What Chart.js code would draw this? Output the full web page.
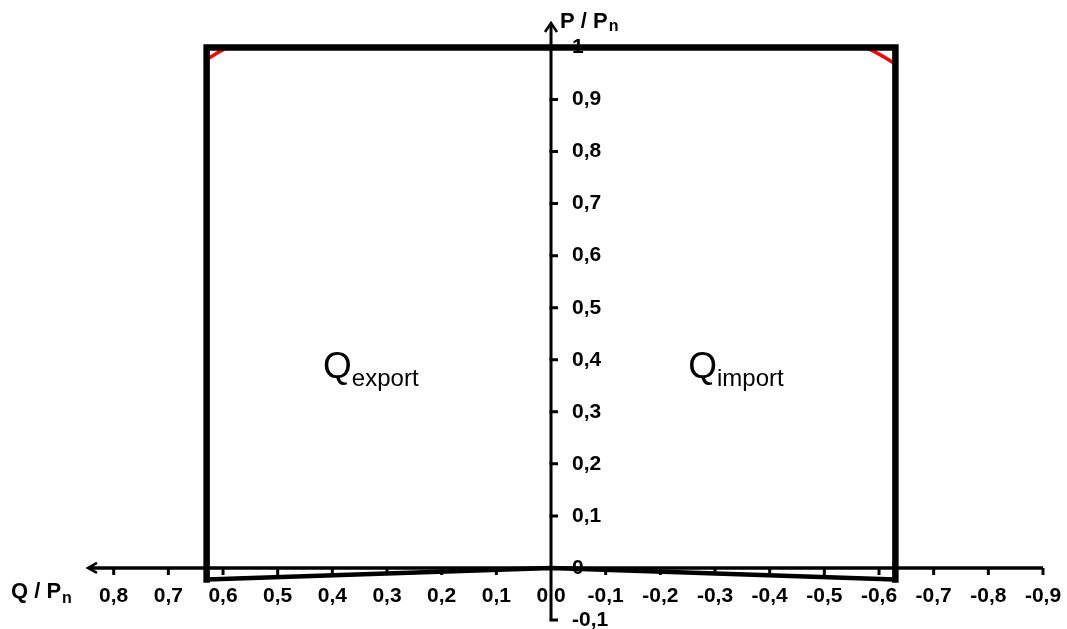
<!DOCTYPE html>
<html>
<head>
<meta charset="utf-8">
<script src="https://cdn.jsdelivr.net/npm/chart.js@4.4.1/dist/chart.umd.min.js"></script>
<style>
  body { margin: 0; background: #fff; }
  #wrap { width: 1067px; height: 629px; }
</style>
</head>
<body>
<div id="wrap"><canvas id="pqChart"></canvas></div>
<script>
// Q/Pn (x) and P/Pn (y) values
const boxQ = [0.63, 0.63, -0.63, -0.63];
const boxP = [-0.022, 1, 1, -0.022];

const baseQ = [0.63, 0, -0.63];
const baseP = [-0.022, 0, -0.022];

const arcLeftQ = [0.593, 0.61, 0.63];
const arcLeftP = [1.0, 0.99, 0.977];
const arcRightQ = [-0.575, -0.59, -0.61, -0.63];
const arcRightP = [1.0, 0.993, 0.981, 0.968];

const xTicks = [0.8, 0.7, 0.6, 0.5, 0.4, 0.3, 0.2, 0.1, 0, -0.1, -0.2, -0.3, -0.4, -0.5, -0.6, -0.7, -0.8, -0.9];
const xTickLabels = ['0,8', '0,7', '0,6', '0,5', '0,4', '0,3', '0,2', '0,1', '0 0', '-0,1', '-0,2', '-0,3', '-0,4', '-0,5', '-0,6', '-0,7', '-0,8', '-0,9'];
const yTicks = [-0.1, 0, 0.1, 0.2, 0.3, 0.4, 0.5, 0.6, 0.7, 0.8, 0.9, 1];
const yTickLabels = ['-0,1', '0', '0,1', '0,2', '0,3', '0,4', '0,5', '0,6', '0,7', '0,8', '0,9', '1'];

// axis extents (arrow tips / axis ends)
const xRange = [-0.9, 0.847];
const yRange = [-0.1, 1.047];

function toPoints(xs, ys) {
    return xs.map((v, i) => ({ x: v, y: ys[i] }));
}

const FONT = '"Liberation Sans", Arial, sans-serif';

const crossAxes = {
    id: 'crossAxes',
    beforeDatasetsDraw(chart) {
        const { ctx, scales: { x, y } } = chart;
        const x0 = x.getPixelForValue(0);
        const y0 = y.getPixelForValue(0);
        const xLeft = x.getPixelForValue(xRange[1]);
        const xRight = x.getPixelForValue(xRange[0]);
        const yTop = y.getPixelForValue(yRange[1]);
        const yBottom = y.getPixelForValue(yRange[0]);

        ctx.save();
        ctx.strokeStyle = '#000';
        ctx.fillStyle = '#000';

        // axis lines
        ctx.lineWidth = 3.5;
        ctx.beginPath();
        ctx.moveTo(xLeft + 1, y0);
        ctx.lineTo(xRight, y0);
        ctx.stroke();
        ctx.lineWidth = 3;
        ctx.beginPath();
        ctx.moveTo(x0, yBottom);
        ctx.lineTo(x0, yTop + 1);
        ctx.stroke();

        // arrow heads
        ctx.lineWidth = 2.5;
        ctx.beginPath();
        ctx.moveTo(xLeft + 9, y0 - 5);
        ctx.lineTo(xLeft, y0);
        ctx.lineTo(xLeft + 9, y0 + 5);
        ctx.moveTo(x0 - 6, yTop + 9);
        ctx.lineTo(x0, yTop);
        ctx.lineTo(x0 + 6, yTop + 9);
        ctx.stroke();

        // tick marks
        ctx.lineWidth = 3;
        ctx.beginPath();
        xTicks.forEach(v => {
            if (v === 0) return;
            const px = x.getPixelForValue(v);
            ctx.moveTo(px, y0);
            ctx.lineTo(px, y0 + 7);
        });
        yTicks.forEach(v => {
            if (v === 0) return;
            const py = y.getPixelForValue(v);
            ctx.moveTo(x0 - 1.5, py);
            ctx.lineTo(x0 + 7, py);
        });
        ctx.stroke();

        // tick labels
        ctx.font = 'bold 21px ' + FONT;
        ctx.textAlign = 'center';
        ctx.textBaseline = 'middle';
        xTicks.forEach((v, i) => {
            ctx.fillText(xTickLabels[i], x.getPixelForValue(v), y0 + 28);
        });
        ctx.textAlign = 'left';
        yTicks.forEach((v, i) => {
            ctx.fillText(yTickLabels[i], x0 + 21, y.getPixelForValue(v));
        });

        // axis titles
        ctx.textBaseline = 'alphabetic';
        ctx.font = 'bold 22px ' + FONT;
        ctx.fillText('P / P', x0 + 9, 28);
        let w = ctx.measureText('P / P').width;
        ctx.font = 'bold 16px ' + FONT;
        ctx.fillText('n', x0 + 10 + w, 31);

        ctx.font = 'bold 22px ' + FONT;
        ctx.fillText('Q / P', 11, 598);
        w = ctx.measureText('Q / P').width;
        ctx.font = 'bold 16px ' + FONT;
        ctx.fillText('n', 12 + w, 603);
        ctx.restore();
    },
    afterDatasetsDraw(chart) {
        const { ctx, scales: { x, y } } = chart;
        const regionLabels = [
            { q: 0.417, p: 0.365, sub: 'export' },
            { q: -0.251, p: 0.365, sub: 'import' }
        ];
        ctx.save();
        ctx.fillStyle = '#000';
        ctx.textAlign = 'left';
        ctx.textBaseline = 'alphabetic';
        regionLabels.forEach(l => {
            const px = x.getPixelForValue(l.q);
            const py = y.getPixelForValue(l.p);
            ctx.font = '37px ' + FONT;
            ctx.fillText('Q', px, py);
            const w = ctx.measureText('Q').width;
            ctx.font = '24px ' + FONT;
            ctx.fillText(l.sub, px + w, py + 8);
        });
        ctx.restore();
    }
};

const ctx = document.getElementById('pqChart').getContext('2d');
new Chart(ctx, {
    type: 'scatter',
    data: {
        datasets: [
            {
                data: toPoints(arcLeftQ, arcLeftP),
                borderColor: '#ff0000',
                borderWidth: 3.5,
                showLine: true,
                pointRadius: 0,
                order: 4
            },
            {
                data: toPoints(arcRightQ, arcRightP),
                borderColor: '#ff0000',
                borderWidth: 3.5,
                showLine: true,
                pointRadius: 0,
                order: 3
            },
            {
                data: toPoints(baseQ, baseP),
                borderColor: '#000',
                borderWidth: 4.5,
                showLine: true,
                pointRadius: 0,
                order: 2
            },
            {
                data: toPoints(boxQ, boxP),
                borderColor: '#000',
                borderWidth: 6.5,
                borderJoinStyle: 'miter',
                borderCapStyle: 'square',
                showLine: true,
                pointRadius: 0,
                order: 1
            }
        ]
    },
    options: {
        responsive: true,
        maintainAspectRatio: false,
        animation: false,
        layout: {
            padding: { left: 88, right: 24, top: 23, bottom: 9 }
        },
        plugins: {
            legend: { display: false },
            tooltip: { enabled: false }
        },
        scales: {
            x: {
                type: 'linear',
                reverse: true,
                min: xRange[0],
                max: xRange[1],
                display: false
            },
            y: {
                type: 'linear',
                min: yRange[0],
                max: yRange[1],
                display: false
            }
        }
    },
    plugins: [crossAxes]
});
</script>
</body>
</html>
